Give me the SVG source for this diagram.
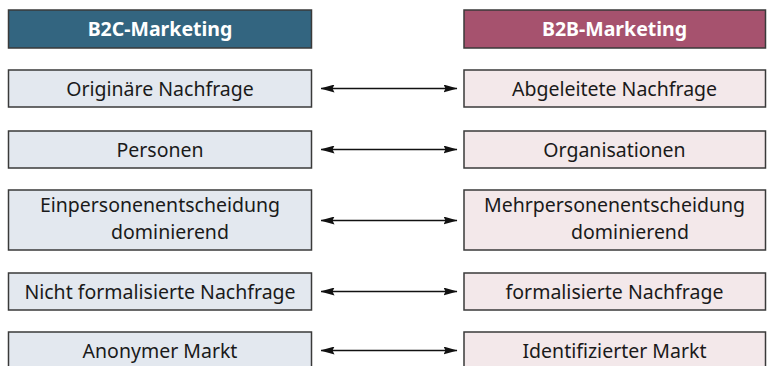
<svg xmlns="http://www.w3.org/2000/svg" width="767" height="366" viewBox="0 0 767 366">
<defs>
<style>
.box{stroke:#3a3a3a;stroke-width:1.5}
.l{fill:#e3e8ef}
.r{fill:#f3e8ea}
.t{font-family:"Noto Sans","Open Sans",sans-serif;font-size:19.5px;fill:#1a1a1a;text-anchor:middle}
.h{font-family:"Noto Sans","Open Sans",sans-serif;font-size:19.5px;font-weight:bold;fill:#ffffff;text-anchor:middle}
.c{stroke:#111;stroke-width:1.5;fill:none;marker-start:url(#a);marker-end:url(#a)}
</style>
<marker id="a" viewBox="0 0 14 8" refX="13.5" refY="4" markerWidth="14" markerHeight="8" markerUnits="userSpaceOnUse" orient="auto-start-reverse">
<path d="M0,0 L14,4 L0,8 L2,4 Z" fill="#111"/>
</marker>
</defs>
<rect width="767" height="366" fill="#ffffff"/>
<g id="b2c-header"><rect class="box" x="8.5" y="10" width="303" height="38" fill="#336580"/><text class="h" x="160" y="35.5">B2C-Marketing</text></g>
<g id="b2b-header"><rect class="box" x="464" y="10" width="301.5" height="38" fill="#a6526e"/><text class="h" x="614.5" y="35.5">B2B-Marketing</text></g>
<g id="l1"><rect class="box l" x="8.5" y="70" width="303" height="37"/><text class="t" x="160" y="96">Originäre Nachfrage</text></g>
<g id="r1"><rect class="box r" x="464" y="70" width="301.5" height="37"/><text class="t" x="614.5" y="96">Abgeleitete Nachfrage</text></g>
<g id="l2"><rect class="box l" x="8.5" y="131" width="303" height="37"/><text class="t" x="160" y="157">Personen</text></g>
<g id="r2"><rect class="box r" x="464" y="131" width="301.5" height="37"/><text class="t" x="614.5" y="157">Organisationen</text></g>
<g id="l3"><rect class="box l" x="8.5" y="190" width="303" height="60"/><text class="t" x="160" y="212">Einpersonenentscheidung</text><text class="t" x="170" y="239">dominierend</text></g>
<g id="r3"><rect class="box r" x="464" y="190" width="301.5" height="60"/><text class="t" x="614.5" y="212">Mehrpersonenentscheidung</text><text class="t" x="630" y="239">dominierend</text></g>
<g id="l4"><rect class="box l" x="8.5" y="273" width="303" height="37"/><text class="t" x="160" y="298.5">Nicht formalisierte Nachfrage</text></g>
<g id="r4"><rect class="box r" x="464" y="273" width="301.5" height="37"/><text class="t" x="614.5" y="298.5">formalisierte Nachfrage</text></g>
<g id="l5"><rect class="box l" x="8.5" y="332" width="303" height="40"/><text class="t" x="160" y="358">Anonymer Markt</text></g>
<g id="r5"><rect class="box r" x="464" y="332" width="301.5" height="40"/><text class="t" x="614.5" y="358">Identifizierter Markt</text></g>
<g id="connectors">
<line class="c" x1="321" y1="88.5" x2="457" y2="88.5"/>
<line class="c" x1="321" y1="149.5" x2="457" y2="149.5"/>
<line class="c" x1="321" y1="220.5" x2="457" y2="220.5"/>
<line class="c" x1="321" y1="291.5" x2="457" y2="291.5"/>
<line class="c" x1="321" y1="350.5" x2="457" y2="350.5"/>
</g>
</svg>
